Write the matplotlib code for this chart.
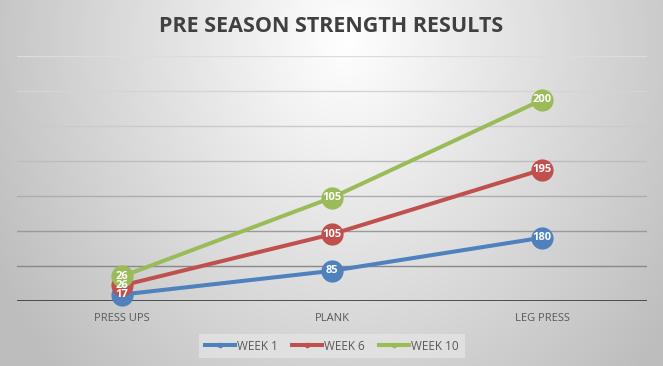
import numpy as np
import matplotlib
matplotlib.use("Agg")
import matplotlib.pyplot as plt
from matplotlib.lines import Line2D

# ---- data ----
categories = ["PRESS UPS", "PLANK", "LEG PRESS"]
series_names = ["WEEK 1", "WEEK 6", "WEEK 10"]
week1 = [17, 85, 180]
week6 = [26, 105, 195]
week10 = [26, 105, 200]
colors = ["#4F81BD", "#C0504D", "#9BBB59"]
title = "PRE SEASON STRENGTH RESULTS"

W, H = 663, 366
DPI = 100
plt.rcParams['font.family'] = ['Open Sans', 'DejaVu Sans']

fig = plt.figure(figsize=(W / DPI, H / DPI), dpi=DPI)

# background radial gradient
bg = fig.add_axes([0, 0, 1, 1], zorder=-10)
yy, xx = np.mgrid[0:H, 0:W]
d = np.sqrt(((xx - 345) / 350.0) ** 2 + ((yy - 40) / 420.0) ** 2)
d = np.clip(d, 0, 1.15)
v = 1.0 - 0.225 * d
img = np.dstack([v, v, v])
bg.imshow(img, aspect='auto', extent=[0, W, H, 0], interpolation='bilinear')
bg.set_xlim(0, W)
bg.set_ylim(H, 0)
bg.axis('off')

# main axes
x_left, x_right = 17, 647
y_bot, y_top = 300.5, 56.3
ax = fig.add_axes([x_left / W, (H - y_bot) / H, (x_right - x_left) / W, (y_bot - y_top) / H])
ax.patch.set_alpha(0)
ax.set_xlim(-0.5, 2.5)
ax.set_ylim(0, 700)
for s in ax.spines.values():
    s.set_visible(False)
ax.set_yticks([])
ax.set_xticks([])

grid_vals = [100, 200, 300, 400, 500, 600, 700]
grid_grays = ["#888888", "#9a9a9a", "#adadad", "#bdbdbd", "#cacaca", "#d4d4d4", "#dcdcdc"]
for gv, gc in zip(grid_vals, grid_grays):
    ax.axhline(gv, color=gc, lw=1.0, zorder=1)
ax.axhline(0, color="#404040", lw=2.0, zorder=2)

xs = np.arange(len(categories))
data = np.array([week1, week6, week10])
cum = np.cumsum(data, axis=0)

handles = []
for i, (name, c) in enumerate(zip(series_names, colors)):
    ax.plot(xs, cum[i], color=c, lw=2.9, marker='o', ms=16, mec=c, mew=0,
            solid_capstyle='round', zorder=3 + i, clip_on=False)
    handles.append(Line2D([0], [0], color=c, lw=2.9, marker='o', ms=4, mew=0))

for i in range(len(series_names)):
    for j in range(len(categories)):
        ax.text(xs[j], cum[i][j], str(data[i][j]), color='white', fontsize=8,
                fontweight='bold', ha='center', va='center', zorder=10)

# category labels
for j, cat in enumerate(categories):
    fig.text((x_left + (j + 0.5) * (x_right - x_left) / 3) / W, (H - 321) / H, cat,
             ha='center', va='baseline', fontsize=8, color='#595959')

fig.text(331 / W, (H - 31.7) / H, title, ha='center', va='baseline',
         fontsize=15.5, fontweight='bold', color='#404040')

leg = fig.legend(handles=handles, labels=series_names, ncol=3,
                 loc='center', bbox_to_anchor=(332 / W, (H - 346) / H),
                 frameon=True, fontsize=8.5, handlelength=2.5, handletextpad=0.2,
                 columnspacing=1.2, borderpad=0.5)
leg.get_frame().set_facecolor('#e6e6e6')
leg.get_frame().set_edgecolor('none')
leg.get_frame().set_alpha(0.7)
leg.get_frame().set_boxstyle('square', pad=0)
for t in leg.get_texts():
    t.set_color('#595959')

fig.savefig('out.png', dpi=DPI)
